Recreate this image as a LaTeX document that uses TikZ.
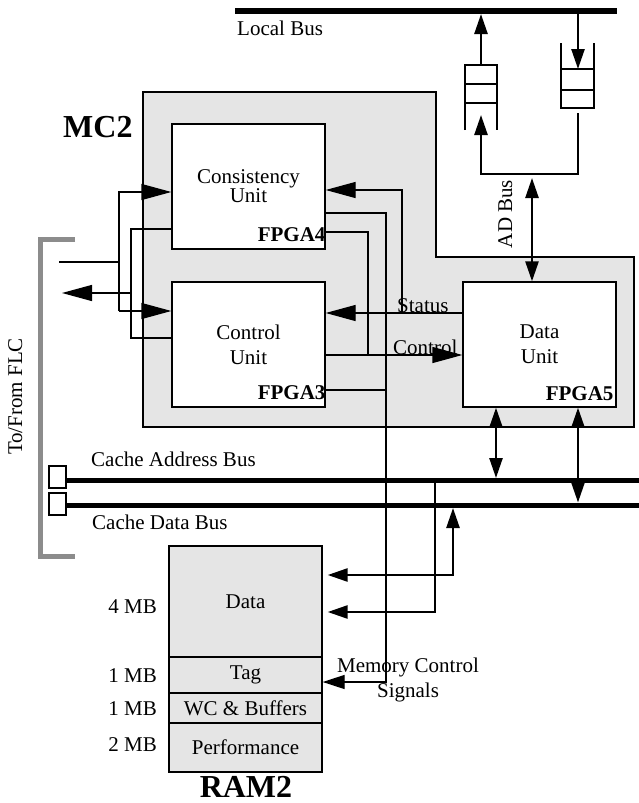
\documentclass[tikz,border=0pt]{standalone}
\usepackage{fontspec}
\setmainfont{Liberation Serif}
\usetikzlibrary{arrows.meta}

\begin{document}
\begin{tikzpicture}[x=1pt, y=-1pt,
    every node/.style={inner sep=0pt, font=\fontsize{21}{25}\selectfont},
    unit/.style={draw, fill=white, line width=1.3pt, minimum width=153pt, minimum height=125pt, align=center},
    mem/.style={draw, fill=gray!20, line width=1.3pt, minimum width=153pt},
    fpga/.style={anchor=base east, font=\fontsize{21}{25}\selectfont\bfseries},
    big/.style={font=\fontsize{32}{36}\selectfont\bfseries},
    sig/.style={line width=1.3pt, >={Triangle[length=30pt,width=16pt]}},
    link/.style={line width=2.5pt, >={Triangle[length=20pt,width=13pt]}},
    bus/.style={line width=5.5pt}]
    \useasboundingbox[fill=white] (0,0) rectangle (639,803);

    \draw[line width=2.5pt, fill=gray!20] (143,92) -- (436,92) -- (436,257) -- (634,257) -- (634,427) -- (143,427) -- cycle;
    \node[big, anchor=base west] (mc) at (63,137) {MC2};

    \node[unit] (cons) at (248.5,186.5) {Consistency\\[-6pt]Unit};
    \node[unit] (ctrl) at (248.5,344.5) {Control\\Unit};
    \node[unit] (data) at (539.5,344.5) {Data\\Unit};
    \node[fpga, yshift=8pt] (f4) at (cons.south east) {FPGA4};
    \node[fpga, yshift=8pt] (f3) at (ctrl.south east) {FPGA3};
    \node[fpga, xshift=-3pt, yshift=7pt] (f5) at (data.south east) {FPGA5};

    \coordinate (lbw) at (235,11);
    \coordinate (lbe) at (617,11);
    \draw[bus] (lbw) -- (lbe);
    \node[anchor=base west] (lbl) at (237,35) {Local Bus};

    \draw[link] (465,130) -- (465,65) -- (497,65) -- (497,130) (465,84) -- (497,84) (465,103) -- (497,103);
    \draw[link] (561,43) -- (561,108) -- (594,108) -- (594,43) (561,69) -- (594,69) (561,90) -- (594,90);
    \coordinate (qa) at (481,65);
    \coordinate (qb) at (578,69);
    \coordinate (adtop) at (532,178);
    \draw[link,->] (qa) -- (qa |- 0,14);
    \draw[link,->] (qb |- 0,14) -- (qb);
    \draw[link,->] (578,113) |- (481,174) -- (qa |- 0,115);
    \draw[link,<->] (adtop) -- (adtop |- data.north);
    \node[rotate=90, anchor=base] (ad) at (512,214) {AD Bus};

    \draw[line width=5pt, black!45] (75,239.5) -- (40,239.5) -- (40,556.5) -- (75,556.5);
    \node[rotate=90, anchor=base] (flc) at (22,396.5) {To/From FLC};
    \node[draw, line width=1.3pt, minimum width=17pt, minimum height=22pt] (pa) at (57.5,477) {};
    \node[draw, line width=1.3pt, minimum width=17pt, minimum height=22pt] (pd) at (57.5,504) {};
    \coordinate (cab) at (639,480.5);
    \coordinate (cdb) at (639,505.5);
    \draw[bus] (pa.east |- cab) -- (cab);
    \draw[bus] (pd.east |- cdb) -- (cdb);
    \node[anchor=base west] (cabl) at (91,466) {Cache Address Bus};
    \node[anchor=base west] (cdbl) at (92,529) {Cache Data Bus};

    \coordinate (ja) at (496,478);
    \coordinate (jd) at (578,502.5);
    \draw[link,<->] (ja |- data.south) -- (ja);
    \draw[link,<->] (jd |- data.south) -- (jd);

    \node[mem, minimum height=111pt] (ramdata) at (245.5,601.5) {Data};
    \node[mem, minimum height=36pt] (tag) at (245.5,675) {Tag};
    \node[mem, minimum height=30pt] (wc) at (245.5,708) {WC \& Buffers};
    \node[mem, minimum height=49pt] (perf) at (245.5,747.5) {Performance};
    \node[big, anchor=base] (ram) at (246,797) {RAM2};
    \node[anchor=base east] (s1) at (157,613) {4 MB};
    \node[anchor=base east] (s2) at (157,682) {1 MB};
    \node[anchor=base east] (s3) at (157,715) {1 MB};
    \node[anchor=base east] (s4) at (157,751) {2 MB};

    \coordinate (ma) at (435,480.5);
    \coordinate (md) at (453,508);
    \draw[link,->] (ma) |- ([xshift=5pt]ramdata.east |- 0,612);
    \draw[link,<->] (md) |- ([xshift=5pt]ramdata.east |- 0,575);

    \coordinate (flci) at (59,262);
    \coordinate (flco) at (62,293);
    \draw[sig] (flci) -- (119,262);
    \draw[sig,->] (119,311) |- (cons.west |- 0,192);
    \draw[sig,->] (119,311) -- (ctrl.west |- 0,311);
    \draw[sig,<-] (flco) -- (131,293);
    \draw[sig] (cons.west |- 0,229) -| (131,338) -- (ctrl.west |- 0,338);

    \draw[sig,->] (data.west |- 0,313) -- (ctrl.east |- 0,313);
    \draw[sig,->] (402,313) |- (cons.east |- 0,190);
    \draw[sig,->] (ctrl.east |- 0,355) -- (data.west |- 0,355);
    \draw[sig] (cons.east |- 0,232) -| (368,355);
    \draw[sig,-{Triangle[length=22pt,width=14pt]}] (cons.east |- 0,213) -| (386,682) -- (tag.east |- 0,682);
    \draw[sig] (ctrl.east |- 0,390) -- (386,390);
    \node[anchor=base west] (st) at (397,312) {Status};
    \node[anchor=base west] (co) at (393,354) {Control};
    \node[align=center, anchor=base] (mcs) at (408,697) {Memory Control\\Signals};
\end{tikzpicture}
\end{document}
